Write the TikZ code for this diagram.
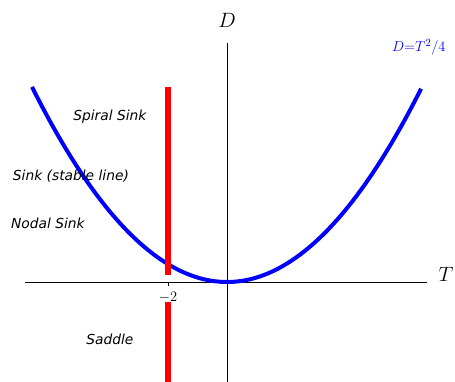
\documentclass[tikz,border=0pt]{standalone}
\usepackage{fontspec}
\newfontfamily\dejavu{DejaVu Sans}
\usetikzlibrary{positioning}
\begin{document}
\begin{tikzpicture}[
  x=29.5pt, y=17.86pt,
  every node/.style={font=\dejavu\itshape\fontsize{13.8}{16}\selectfont},
  axislabel/.style={font=\fontsize{21}{24}\selectfont},
  boundary/.style={draw=red,line width=6pt},
]
  \useasboundingbox (-7.695,-5.599) rectangle (7.729,15.79);
  % Axes
  \draw[line width=0.8pt] (-6.85,0) -- (6.78,0);
  \draw[line width=0.8pt] (0,-5.6) -- (0,13.38);
  \draw[line width=0.6pt] (-2,0) -- (-2,-0.25);
  \node[axislabel] (dlab) at (0,14.67) {$D$};
  \node[axislabel] (tlab) at (7.42,0.45) {$T$};
  \node[font=\fontsize{14}{16}\selectfont] (tick) at (-2,-0.84) {$-2$};
  % Parabola
  \draw[blue,line width=4pt,domain=-6.61:6.58,samples=80] plot (\x,{\x*\x/4});
  \node[blue,font=\fontsize{15}{18}\selectfont] (plab) at (6.5,13.16) {$D{=}T^2/4$};
  % T = -2
  \coordinate (rtop) at (-2,10.92);
  \coordinate (rmid) at (-2,0.39);
  \coordinate (rlow) at (-2,-1.12);
  \coordinate (rbot) at (-2,-5.6);
  \draw[boundary] (rtop) -- (rmid);
  \draw[boundary] (rlow) -- (rbot);
  % Regions
  \node (spiral) at (-3.97,9.24) {Spiral Sink};
  \node (stable) at (-5.29,5.94) {Sink (stable line)};
  \node (nodal) at (-6.07,3.30) {Nodal Sink};
  \node (saddle) at (-3.97,-3.19) {Saddle};
\end{tikzpicture}
\end{document}
